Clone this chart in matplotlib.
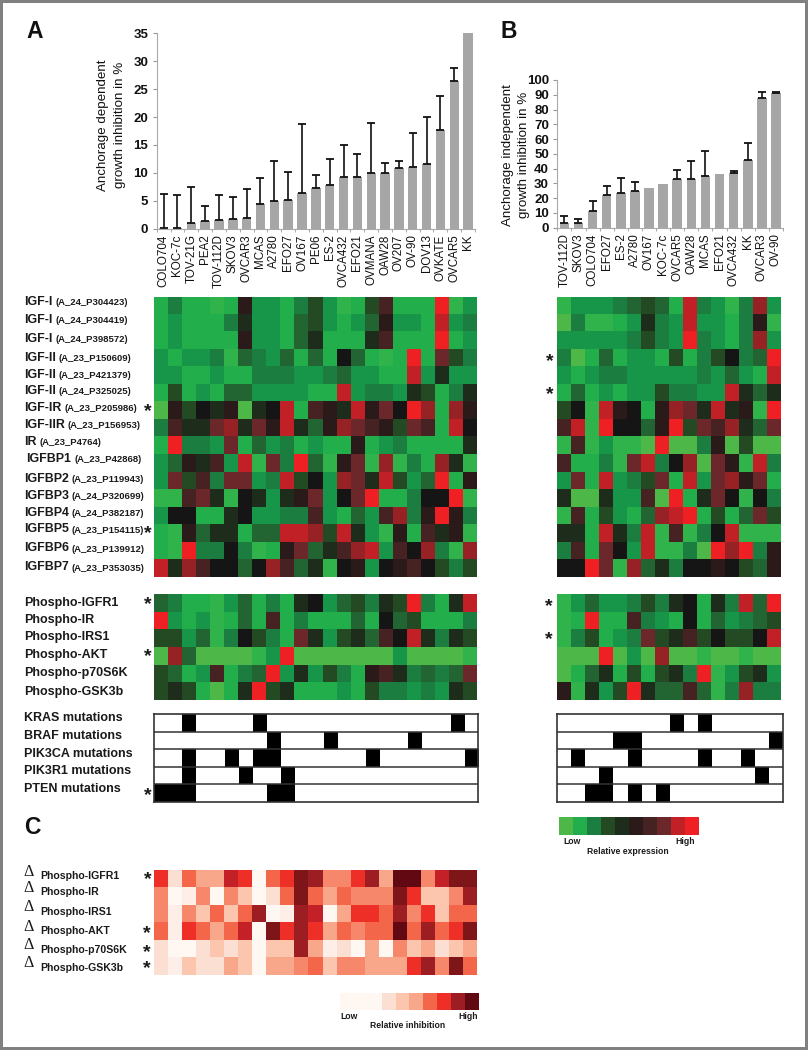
"""Growth inhibition bars plus expression / phospho / mutation heatmaps (panels A, B, C)."""

import matplotlib

matplotlib.use("Agg")
import matplotlib.pyplot as plt
import numpy as np
from matplotlib.colors import ListedColormap

plt.rcParams["font.family"] = ["Liberation Sans", "DejaVu Sans"]

W, H = 808, 1050

# bar data
lines_a = ["COLO704", "KOC-7c", "TOV-21G", "PEA2", "TOV-112D", "SKOV3", "OVCAR3", "MCAS", "A2780", "EFO27", "OV167",
           "PE06", "ES-2", "OVCA432", "EFO21", "OVMANA", "OAW28", "OV207", "OV-90", "DOV13", "OVKATE", "OVCAR5", "KK"]
inhib_a = [0.1, 0.1, 1.1, 1.4, 1.5, 1.8, 1.9, 4.5, 5.0, 5.1, 6.4, 7.3, 7.9, 9.2, 9.3, 10.0, 10.0, 10.9, 11.0, 11.5,
           17.7, 26.5, 35.0]
top_a = [6.3, 6.0, 7.5, 4.1, 6.0, 5.6, 7.1, 9.1, 12.2, 10.2, 18.7, 9.7, 12.4, 15.0, 13.3, 18.9, 11.7, 12.2, 17.2,
         20.0, 23.7, 28.8, None]

lines_b = ["TOV-112D", "SKOV3", "COLO704", "EFO27", "ES-2", "A2780", "OV167", "KOC-7c", "OVCAR5", "OAW28", "MCAS",
           "EFO21", "OVCA432", "KK", "OVCAR3", "OV-90"]
inhib_b = [3.5, 3.5, 11, 22, 23.5, 25, 27, 29.5, 33, 33, 35, 36.5, 37, 46, 87.5, 91]
top_b = [8, 6, 18, 28, 33.5, 31, None, None, 39, 45, 52, None, 38.5, 57.5, 92, 92]

# expression levels, 0 = lowest ... 14 = highest
expr_a = [
    [2, 4, 2, 2, 1, 2, 9, 3, 3, 2, 4, 6, 3, 1, 2, 6, 10, 2, 2, 2, 14, 1, 3],
    [2, 3, 2, 2, 2, 4, 7, 3, 3, 2, 5, 6, 3, 2, 3, 5, 9, 3, 3, 2, 13, 3, 4],
    [2, 3, 2, 2, 2, 2, 9, 3, 3, 2, 5, 7, 2, 2, 2, 7, 10, 2, 2, 2, 14, 2, 3],
    [3, 2, 3, 3, 4, 1, 5, 4, 3, 5, 2, 5, 2, 8, 5, 2, 1, 2, 14, 2, 11, 6, 4],
    [3, 3, 2, 2, 3, 2, 2, 4, 4, 4, 3, 3, 4, 5, 3, 3, 2, 2, 13, 3, 7, 3, 3],
    [2, 6, 2, 3, 2, 5, 5, 3, 3, 3, 3, 2, 2, 13, 3, 4, 4, 3, 7, 6, 2, 4, 7],
    [0, 9, 6, 8, 7, 9, 0, 7, 8, 13, 2, 10, 9, 7, 13, 9, 11, 8, 14, 12, 2, 12, 9],
    [4, 10, 7, 7, 11, 12, 7, 11, 9, 13, 7, 5, 9, 12, 11, 10, 9, 6, 11, 10, 2, 13, 8],
    [2, 14, 4, 4, 3, 11, 2, 5, 3, 4, 2, 3, 2, 2, 9, 2, 3, 4, 2, 2, 2, 2, 7],
    [3, 5, 9, 7, 10, 3, 13, 1, 11, 4, 14, 5, 1, 9, 11, 1, 12, 1, 4, 2, 12, 7, 1],
    [3, 11, 6, 10, 4, 11, 11, 3, 4, 13, 6, 8, 3, 12, 11, 7, 13, 6, 3, 5, 14, 2, 9],
    [1, 1, 10, 11, 7, 1, 8, 7, 3, 7, 9, 11, 3, 8, 11, 14, 2, 2, 4, 8, 8, 14, 1],
    [3, 8, 8, 2, 2, 7, 8, 3, 3, 4, 4, 10, 3, 2, 5, 3, 10, 12, 4, 9, 14, 9, 4],
    [2, 1, 9, 5, 7, 7, 2, 5, 5, 13, 13, 12, 6, 13, 7, 3, 1, 9, 2, 10, 7, 9, 1],
    [2, 1, 14, 4, 4, 8, 4, 1, 2, 9, 11, 5, 7, 10, 12, 13, 3, 10, 8, 12, 4, 1, 12],
    [13, 7, 12, 10, 8, 8, 5, 8, 12, 10, 5, 7, 1, 8, 9, 3, 8, 9, 10, 8, 6, 4, 6],
]
expr_b = [
    [1, 3, 3, 3, 4, 5, 6, 5, 2, 13, 4, 3, 1, 4, 12, 3],
    [0, 4, 1, 1, 2, 3, 7, 4, 3, 13, 3, 3, 2, 4, 9, 1],
    [3, 3, 3, 3, 3, 4, 6, 4, 3, 14, 4, 3, 2, 4, 12, 3],
    [4, 0, 2, 5, 2, 3, 3, 2, 6, 2, 4, 6, 8, 4, 5, 14],
    [3, 2, 3, 4, 4, 3, 3, 3, 3, 3, 4, 3, 5, 3, 2, 13],
    [2, 5, 2, 3, 2, 3, 3, 6, 4, 4, 3, 3, 13, 7, 5, 7],
    [6, 8, 1, 13, 9, 8, 2, 9, 12, 11, 7, 13, 7, 9, 1, 14],
    [10, 13, 1, 14, 8, 8, 5, 9, 14, 6, 11, 10, 12, 7, 5, 11],
    [1, 10, 1, 3, 1, 1, 0, 14, 0, 0, 4, 9, 0, 6, 0, 0],
    [10, 2, 2, 4, 1, 11, 13, 4, 8, 12, 0, 11, 9, 1, 13, 4],
    [3, 11, 2, 13, 3, 4, 6, 11, 2, 13, 3, 11, 12, 9, 11, 2],
    [7, 0, 0, 7, 3, 3, 10, 0, 14, 2, 7, 11, 8, 1, 8, 4],
    [1, 10, 2, 6, 3, 2, 5, 12, 13, 14, 2, 6, 2, 5, 11, 6],
    [7, 7, 2, 13, 7, 4, 13, 1, 10, 1, 4, 8, 13, 1, 1, 1],
    [4, 10, 2, 11, 8, 3, 13, 1, 1, 4, 0, 14, 12, 14, 4, 9],
    [8, 8, 14, 11, 1, 12, 5, 7, 4, 8, 8, 9, 8, 6, 5, 9],
]
phospho_a = [
    [5, 4, 2, 2, 1, 3, 5, 2, 4, 2, 7, 8, 3, 5, 6, 4, 7, 6, 14, 4, 2, 7, 13],
    [14, 3, 2, 3, 1, 2, 5, 2, 10, 2, 4, 2, 2, 2, 5, 2, 8, 5, 6, 2, 2, 2, 4],
    [6, 6, 3, 5, 1, 4, 8, 6, 4, 2, 11, 7, 3, 6, 7, 5, 10, 8, 13, 7, 4, 7, 6],
    [0, 12, 5, 0, 0, 0, 0, 1, 3, 14, 0, 0, 0, 0, 0, 0, 0, 3, 0, 0, 0, 0, 1],
    [6, 5, 2, 3, 10, 2, 4, 5, 14, 3, 7, 3, 6, 4, 2, 9, 10, 7, 4, 5, 4, 5, 11],
    [6, 7, 6, 2, 0, 2, 7, 14, 6, 7, 2, 2, 2, 3, 2, 6, 4, 4, 3, 4, 3, 7, 6],
]
phospho_b = [
    [1, 3, 5, 3, 3, 4, 6, 4, 7, 8, 2, 7, 4, 13, 5, 14],
    [1, 2, 14, 2, 2, 10, 4, 3, 2, 8, 2, 5, 3, 4, 5, 6],
    [1, 4, 6, 2, 3, 4, 11, 6, 7, 10, 6, 8, 6, 6, 8, 13],
    [0, 0, 0, 14, 0, 3, 0, 12, 0, 0, 1, 0, 0, 1, 0, 0],
    [0, 2, 5, 7, 2, 6, 2, 6, 7, 4, 14, 1, 3, 6, 7, 3],
    [9, 1, 7, 3, 6, 14, 7, 5, 5, 10, 5, 1, 4, 12, 4, 4],
]
# relative inhibition, 0 = lowest ... 11 = highest
inhibition_c = [
    [7, 2, 6, 4, 4, 8, 7, 0, 6, 7, 10, 9, 5, 5, 7, 9, 4, 11, 11, 5, 8, 10, 10],
    [5, 0, 1, 5, 0, 5, 3, 0, 2, 6, 10, 6, 4, 6, 5, 5, 5, 10, 7, 3, 3, 5, 9],
    [5, 1, 5, 3, 6, 3, 6, 9, 0, 1, 9, 8, 0, 4, 7, 7, 6, 9, 5, 7, 3, 6, 6],
    [6, 1, 7, 6, 4, 6, 8, 0, 10, 7, 9, 7, 4, 6, 5, 6, 6, 11, 6, 9, 6, 7, 10],
    [2, 0, 0, 2, 3, 2, 3, 0, 3, 3, 9, 4, 1, 2, 0, 4, 0, 5, 3, 4, 2, 3, 4],
    [2, 1, 3, 2, 2, 4, 3, 0, 4, 4, 5, 6, 3, 5, 5, 4, 4, 4, 7, 9, 5, 10, 6],
]
# column indices carrying each mutation
mut_a = [[2, 7, 21], [8, 12, 18], [2, 5, 7, 8, 15, 22], [2, 6, 9], [0, 1, 2, 8, 9]]
mut_b = [[8, 10], [4, 5, 15], [1, 5, 10, 13], [3, 14], [2, 3, 5, 7]]

gene_names = ["IGF-I", "IGF-I", "IGF-I", "IGF-II", "IGF-II", "IGF-II", "IGF-IR", "IGF-IIR", "IR", "IGFBP1", "IGFBP2",
              "IGFBP3", "IGFBP4", "IGFBP5", "IGFBP6", "IGFBP7"]
probe_names = ["(A_24_P304423)", "(A_24_P304419)", "(A_24_P398572)", "(A_23_P150609)", "(A_23_P421379)",
               "(A_24_P325025)", "(A_23_P205986)", "(A_23_P156953)", "(A_23_P4764)", "(A_23_P42868)",
               "(A_23_P119943)", "(A_24_P320699)", "(A_24_P382187)", "(A_23_P154115)", "(A_23_P139912)",
               "(A_23_P353035)"]
gene_y = [301.7, 320, 338.7, 358, 374.7, 391, 407.7, 424.7, 441.7, 459, 478.7, 496, 512.7, 529.3, 548.3, 567.3]
gene_x = [24, 24, 24, 24, 24, 24, 24, 24, 24, 26.5, 24, 24, 24, 24, 24, 24]

phospho_names = ["Phospho-IGFR1", "Phospho-IR", "Phospho-IRS1", "Phospho-AKT", "Phospho-p70S6K", "Phospho-GSK3b"]
phospho_y = [603.3, 620, 637.3, 655, 673.3, 691.7]
mut_names = ["KRAS mutations", "BRAF mutations", "PIK3CA mutations", "PIK3R1 mutations", "PTEN mutations"]
mut_y = [718.3, 736, 754.3, 770.7, 789.3]
delta_y = [871.7, 888.3, 907.3, 926.7, 945, 963.3]
delta_label_y = [876, 892.3, 911.7, 931.3, 950, 968.3]

stars = [(147.5, 409), (147.5, 531), (550, 359), (550, 391.7), (148, 602), (148, 654), (148, 793), (549, 604),
         (549, 637), (147.5, 877), (147, 931), (147, 950), (147, 966)]

green_red = ["#4DB848", "#30B34A", "#22AE4B", "#179548", "#1C7D40", "#226432", "#244A24", "#1D2C1B", "#151515",
             "#2B1A1A", "#472222", "#6B2729", "#962226", "#C02026", "#EE2024"]
reds = ["#FFF7F1", "#FDEFE7", "#FBDFD2", "#FBC5AE", "#F9A78A", "#F6876A", "#F3664A", "#EE2F28", "#C42027", "#9C1D22",
        "#7D1519", "#620812"]
expr_legend = [0, 2, 4, 6, 7, 9, 10, 11, 13, 14]
inhib_legend = [0, 0, 0, 2, 3, 4, 6, 7, 9, 11]

cmap_expr = ListedColormap(green_red)
cmap_inhib = ListedColormap(reds)


def px_axes(fig, x0, y0, x1, y1, **kw):
    return fig.add_axes([x0 / W, 1 - y1 / H, (x1 - x0) / W, (y1 - y0) / H], **kw)


def heat(fig, data, cmap, box):
    ax = px_axes(fig, *box)
    ax.imshow(np.array(data), cmap=cmap, vmin=0, vmax=cmap.N - 1, aspect="auto", interpolation="nearest")
    ax.axis("off")
    return ax


def mutations(fig, hits, n_cols, box):
    grid = np.zeros((len(hits), n_cols))
    for r, cols in enumerate(hits):
        grid[r, cols] = 1
    ax = px_axes(fig, *box)
    ax.imshow(grid, cmap="gray_r", vmin=0, vmax=1, aspect="auto", interpolation="nearest")
    for r in range(1, len(hits)):
        ax.axhline(r - 0.5, color="#333333", lw=1.1)
    ax.set_xticks([])
    ax.set_yticks([])
    for s in ax.spines.values():
        s.set_color("#333333")
        s.set_linewidth(1.2)


def bars(fig, names, vals, tops, ymax, step, box):
    ax = px_axes(fig, *box)
    x = np.arange(len(names))
    ax.bar(x, vals, width=0.68, color="#A6A6A6", clip_on=False)
    ex = [i for i, t in enumerate(tops) if t is not None]
    ax.errorbar(x[ex], [vals[i] for i in ex], yerr=[[0] * len(ex), [tops[i] - vals[i] for i in ex]], fmt="none",
                ecolor="#111111", elinewidth=1.2, capsize=2.8, capthick=1.3)
    ax.set_xlim(-0.5, len(names) - 0.5)
    ax.set_ylim(0, ymax)
    ax.set_yticks(np.arange(0, ymax + 1, step))
    ax.set_xticks(x)
    ax.set_xticklabels(names, rotation=90, fontsize=8.4, color="#111111")
    ax.set_xticks(np.arange(-0.5, len(names)), minor=True)
    ax.tick_params(axis="x", which="major", length=0, pad=4)
    ax.tick_params(axis="x", which="minor", length=2.5, color="#999999")
    ax.tick_params(axis="y", length=3, color="#999999", labelsize=9.5, pad=3, labelcolor="#111111")
    for lab in ax.get_yticklabels():
        lab.set_fontweight("bold")
    for s in ("top", "right"):
        ax.spines[s].set_visible(False)
    for s in ("left", "bottom"):
        ax.spines[s].set_color("#AAAAAA")
    return ax


fig = plt.figure(figsize=(W / 100, H / 100), dpi=100, facecolor="#808080")

# white sheet + overlay in pixel coordinates for all the free text
page = fig.add_axes([0, 0, 1, 1], zorder=0)
page.set_xlim(0, W)
page.set_ylim(H, 0)
page.axis("off")
page.add_patch(plt.Rectangle((2.5, 2.5), 802.5, 1044.5, color="white", lw=0))

bars(fig, lines_a, inhib_a, top_a, 35, 5, (156.7, 33.3, 475, 228.7))
bars(fig, lines_b, inhib_b, top_b, 100, 10, (557.3, 80, 783, 227.7))

heat(fig, expr_a, cmap_expr, (153.5, 296.5, 476.5, 577))
heat(fig, expr_b, cmap_expr, (557, 296.5, 781, 577))
heat(fig, phospho_a, cmap_expr, (153.5, 593.7, 476.5, 699.5))
heat(fig, phospho_b, cmap_expr, (557, 593.7, 781, 699.5))
heat(fig, inhibition_c, cmap_inhib, (153.5, 870, 476.5, 975))
heat(fig, [expr_legend], cmap_expr, (559.3, 817, 699, 835))
heat(fig, [inhib_legend], cmap_inhib, (340, 992.7, 478.3, 1010.3))
mutations(fig, mut_a, 23, (154, 714, 478, 802))
mutations(fig, mut_b, 16, (557, 714, 782.7, 802))

txt = dict(va="center", color="#1A1A1A")
for letter, x, y in (("A", 26, 32), ("B", 501, 32), ("C", 24, 828)):
    page.text(x, y, letter, fontsize=16.5, fontweight="bold", color="#111111", va="center")

for x, y, s in ((103, 125, "Anchorage dependent"), (119.5, 125, "growth inhibition in %"),
                (507.5, 155, "Anchorage independent"), (524, 155, "growth inhibition in %")):
    page.text(x, y, s, rotation=90, ha="center", fontsize=9.6, va="center", color="#111111")

fig.canvas.draw()
rend = fig.canvas.get_renderer()
inv = page.transData.inverted()
for name, probe, x, y in zip(gene_names, probe_names, gene_x, gene_y):
    t = page.text(x, y, name, fontsize=8.9, fontweight="bold", **txt)
    end = inv.transform(t.get_window_extent(rend).get_points())[1, 0]
    page.text(end + 3, y + 0.8, probe, fontsize=6.8, fontweight="bold", **txt)

for name, y in zip(phospho_names, phospho_y):
    page.text(24.5, y, name, fontsize=9, fontweight="bold", **txt)
for name, y in zip(mut_names, mut_y):
    page.text(24.5, y, name, fontsize=9, fontweight="bold", **txt)
for name, y0, y1 in zip(phospho_names, delta_y, delta_label_y):
    page.text(29, y0, "Δ", fontsize=11.5, ha="center", family="Liberation Serif", **txt)
    page.text(40, y1, name, fontsize=7.6, fontweight="bold", **txt)
for x, y in stars:
    page.text(x, y + 3, "*", fontsize=14, fontweight="bold", ha="center", **txt)

for x, y, s in ((572, 842, "Low"), (685, 842, "High"), (628, 851, "Relative expression"),
                (348.7, 1016.7, "Low"), (468.3, 1016.7, "High"), (408, 1025.7, "Relative inhibition")):
    page.text(x, y, s, fontsize=6.2, fontweight="bold", ha="center", **txt)

fig.savefig("out.png", dpi=100, facecolor=fig.get_facecolor())
